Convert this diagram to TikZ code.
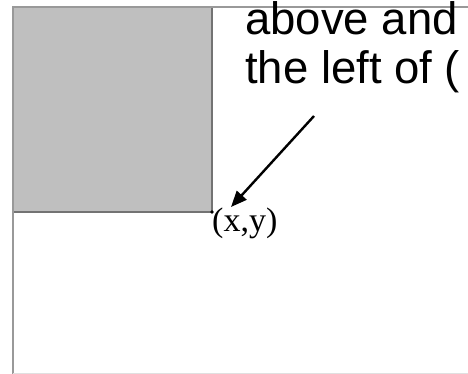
\documentclass[tikz,border=0pt]{standalone}
\usepackage{fontspec}
\usepackage{tikz}
\usetikzlibrary{arrows.meta}
\newfontfamily\arialfont{Liberation Sans}
\newfontfamily\timesfont{Liberation Serif}

\begin{document}
\begin{tikzpicture}[x=1pt, y=-1pt, inner sep=0pt,
		frame/.style={draw=black!40, line width=1.4pt},
		region/.style={fill=black!25},
		edge/.style={draw=black!55, line width=1.2pt},
		bigtext/.style={anchor=base west, font=\arialfont\fontsize{45.5}{54}\selectfont},
		pointlabel/.style={anchor=base west, font=\timesfont\fontsize{34}{40}\selectfont},
		pointer/.style={-{Triangle[length=16pt,width=13pt]}, line width=2.4pt}]
				\useasboundingbox (0,0) rectangle (468,374);
				\coordinate (O) at (13,7);
				\coordinate (P) at (212,212);
				\coordinate (R) at (468,7);
				\coordinate (B) at (13,374);
				
				\fill[region] (O) rectangle (P);
				\draw[edge] (O -| P) -- (P) -- (O |- P);
				\draw[frame] (R) -- (O) -- (B);
				\draw[black!12] (13,373) -- (468,373);
				\fill (P) circle (1.8);
				
				\node[bigtext] (above) at (245,35) {above and};
				\node[bigtext] (left) at (245,84) {the left of (};
				\node[pointlabel] (xy) at (212,231) {(x,y)};
				
				\coordinate (tail) at (314,116);
				\coordinate (tip) at (231,207);
				\draw[pointer] (tail) -- (tip);
			\end{tikzpicture}
\end{document}
